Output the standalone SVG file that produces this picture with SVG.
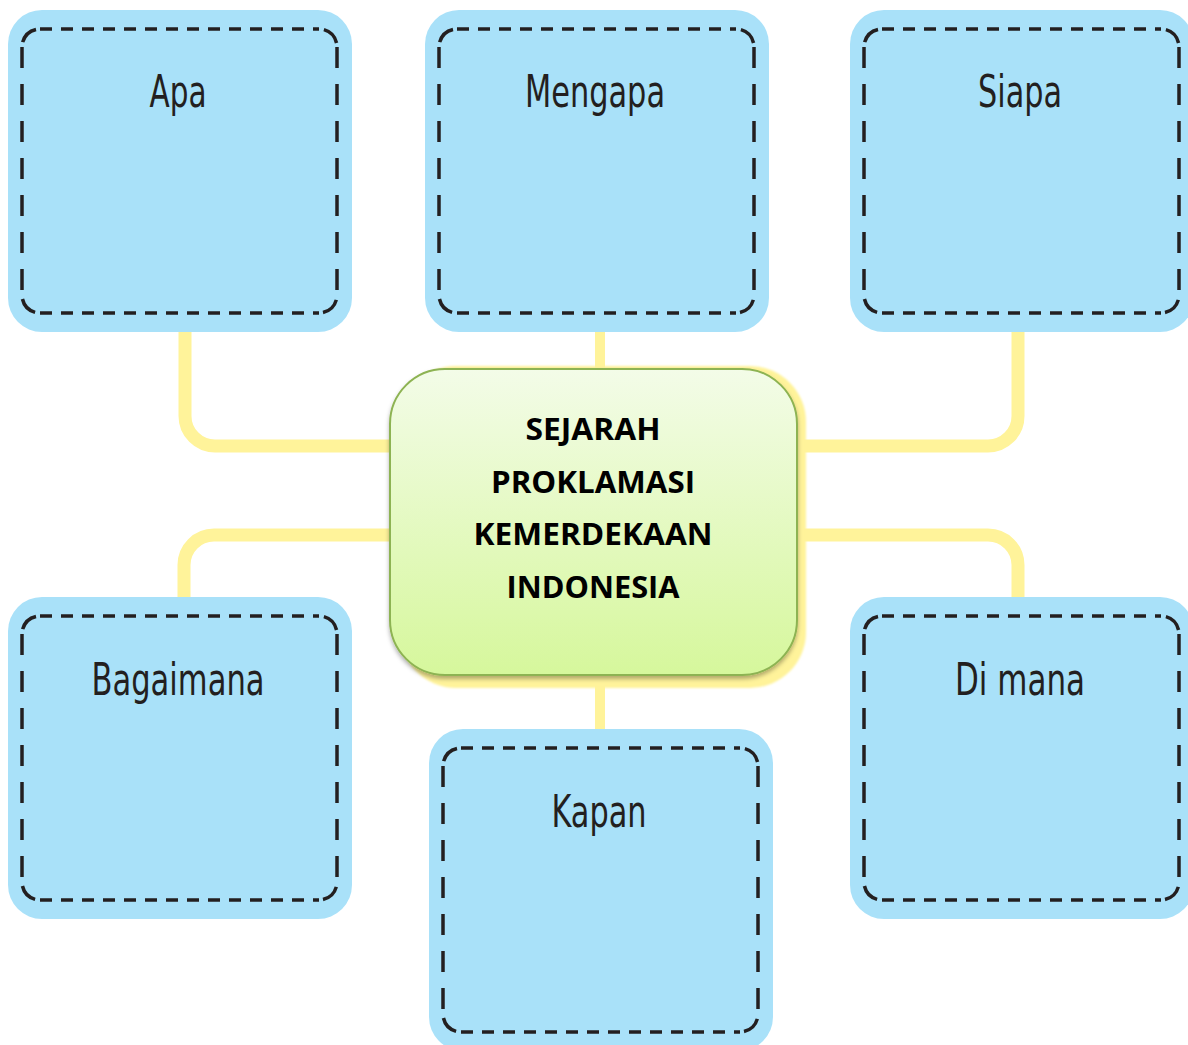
<svg xmlns="http://www.w3.org/2000/svg" xmlns:xlink="http://www.w3.org/1999/xlink" width="1188" height="1045" viewBox="0 0 1188 1045">
<style>
.conn{fill:none;stroke:#fff39a;stroke-width:13}
.outer{fill:#a9e1f9}
.dh{fill:none;stroke:#231f20;stroke-width:3.5;stroke-dasharray:12 9}
.dv{fill:none;stroke:#231f20;stroke-width:3.5;stroke-dasharray:21 16}
.dc{fill:none;stroke:#231f20;stroke-width:3.5;stroke-dasharray:0 5 19 100}
.lbl{font-family:"Liberation Sans Narrow","DejaVu Sans Condensed","Liberation Sans",sans-serif;font-size:44px;fill:#231f20;text-anchor:middle}
.ctr{font-family:"Open Sans","Liberation Sans",sans-serif;font-weight:bold;font-size:31px;fill:#000;text-anchor:middle}
</style>
<defs>
<linearGradient id="gg" x1="0" y1="0" x2="0" y2="1">
<stop offset="0" stop-color="#f3fce8"/>
<stop offset="1" stop-color="#d6f79c"/>
</linearGradient>
<filter id="blur" x="-10%" y="-10%" width="120%" height="120%"><feGaussianBlur stdDeviation="1.2"/></filter>
<filter id="sh" x="-10%" y="-10%" width="120%" height="120%"><feDropShadow dx="0" dy="3" stdDeviation="2" flood-color="#000" flood-opacity="0.3"/></filter>
<g id="box">
<rect class="outer" x="0" y="0" width="344" height="322" rx="34"/>
<path class="dh" d="M32,19 H311 M32,303 H311"/>
<path class="dv" d="M14,37 V285 M329,37 V285"/>
<path class="dc" d="M14,37 A18,18 0 0 1 32,19"/>
<path class="dc" d="M311,19 A18,18 0 0 1 329,37"/>
<path class="dc" d="M329,285 A18,18 0 0 1 311,303"/>
<path class="dc" d="M32,303 A18,18 0 0 1 14,285"/>
</g>
</defs>
<rect width="1188" height="1045" fill="#ffffff"/>
<g id="connectors">
<path class="conn" d="M185,330 V416 A30,30 0 0 0 215,446 H400"/>
<path class="conn" d="M1018,330 V416 A30,30 0 0 1 988,446 H790"/>
<path class="conn" d="M184,600 V565 A30,30 0 0 1 214,535 H400"/>
<path class="conn" d="M1018,600 V565 A30,30 0 0 0 988,535 H790"/>
<path class="conn" style="stroke-width:10" d="M600,330 V372"/>
<path class="conn" style="stroke-width:10" d="M600,684 V732"/>
</g>
<g id="node-apa" transform="translate(8,10)">
<use xlink:href="#box"/>
<text class="lbl" x="170" y="97" textLength="57" lengthAdjust="spacingAndGlyphs">Apa</text>
</g>
<g id="node-mengapa" transform="translate(425,10)">
<use xlink:href="#box"/>
<text class="lbl" x="170" y="97" textLength="140" lengthAdjust="spacingAndGlyphs">Mengapa</text>
</g>
<g id="node-siapa" transform="translate(850,10)">
<use xlink:href="#box"/>
<text class="lbl" x="170" y="97" textLength="84" lengthAdjust="spacingAndGlyphs">Siapa</text>
</g>
<g id="node-bagaimana" transform="translate(8,597)">
<use xlink:href="#box"/>
<text class="lbl" x="170" y="98" textLength="173" lengthAdjust="spacingAndGlyphs">Bagaimana</text>
</g>
<g id="node-dimana" transform="translate(850,597)">
<use xlink:href="#box"/>
<text class="lbl" x="170" y="98" textLength="130" lengthAdjust="spacingAndGlyphs">Di mana</text>
</g>
<g id="node-kapan" transform="translate(429,729)">
<use xlink:href="#box"/>
<text class="lbl" x="170" y="98" textLength="95" lengthAdjust="spacingAndGlyphs">Kapan</text>
</g>
<g id="node-center">
<rect x="400" y="366" width="406" height="322" rx="56" fill="#fff39a" filter="url(#blur)"/>
<rect x="390" y="369" width="407" height="306" rx="55" fill="url(#gg)" stroke="#8db352" stroke-width="2" filter="url(#sh)"/>
<text class="ctr" x="593" y="440" textLength="135" lengthAdjust="spacingAndGlyphs">SEJARAH</text>
<text class="ctr" x="593" y="493" textLength="204" lengthAdjust="spacingAndGlyphs">PROKLAMASI</text>
<text class="ctr" x="593" y="545" textLength="239" lengthAdjust="spacingAndGlyphs">KEMERDEKAAN</text>
<text class="ctr" x="593" y="598" textLength="173" lengthAdjust="spacingAndGlyphs">INDONESIA</text>
</g>
</svg>
